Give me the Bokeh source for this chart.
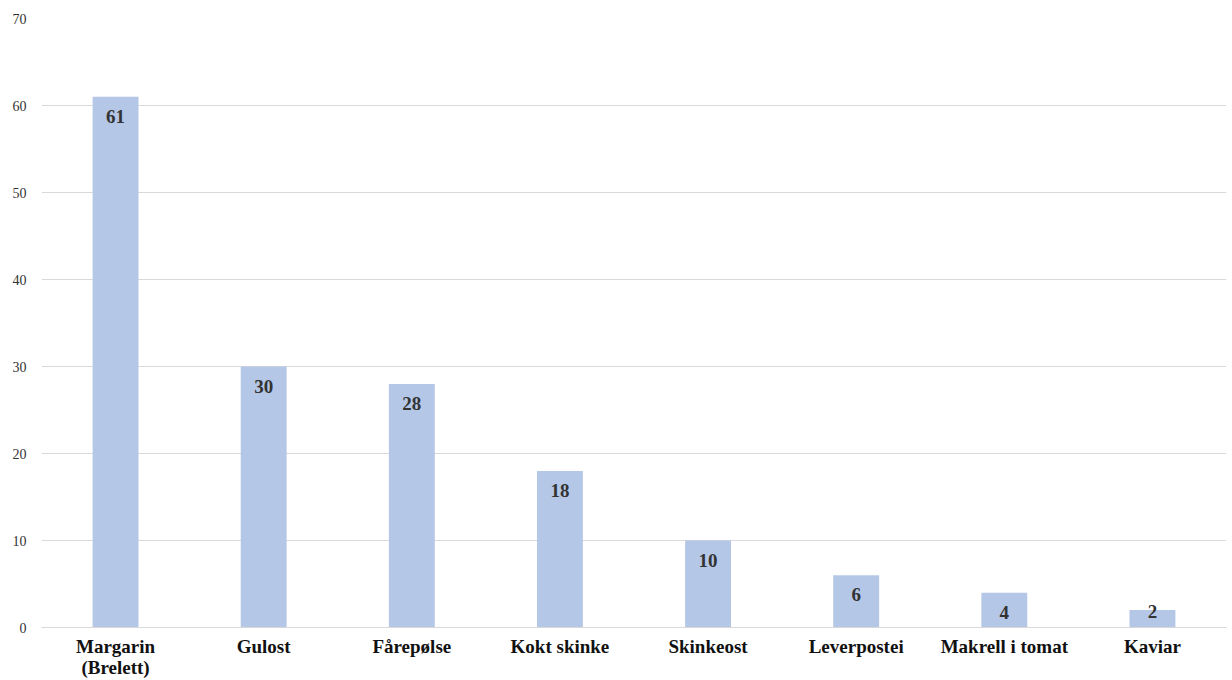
from bokeh.plotting import figure
from bokeh.models import ColumnDataSource, FixedTicker, LabelSet
from bokeh.embed import file_html
from bokeh.resources import INLINE

categories = ["Margarin\n(Brelett)", "Gulost", "Fårepølse", "Kokt skinke",
              "Skinkeost", "Leverpostei", "Makrell i tomat", "Kaviar"]
values = [61, 30, 28, 18, 10, 6, 4, 2]
y_ticks = [0, 10, 20, 30, 40, 50, 60, 70]

# labels sit inside the bar end; very short bars get the label nudged up (as in the source)
label_offsets = [-13 if v >= 3 else 5 for v in values]

src = ColumnDataSource(dict(cat=categories, val=values, lab=[str(v) for v in values],
                            off=label_offsets))

p = figure(x_range=categories, y_range=(0, 70), width=1232, height=680,
           output_backend="svg", toolbar_location=None,
           min_border_left=41, min_border_right=6, min_border_top=18, min_border_bottom=52)
p.outline_line_color = None
p.background_fill_color = "white"
p.border_fill_color = "white"

p.vbar(x="cat", top="val", width=0.31, source=src, color="#b4c7e7", line_color=None)

labels = LabelSet(x="cat", y="val", text="lab", source=src, text_align="center",
                  text_baseline="top", y_offset="off", text_font="Liberation Serif",
                  text_font_style="bold", text_font_size="19px", text_color="#333333")
p.add_layout(labels)

p.yaxis.ticker = FixedTicker(ticks=y_ticks)
p.yaxis.axis_line_color = None
p.yaxis.major_tick_line_color = None
p.yaxis.minor_tick_line_color = None
p.yaxis.major_label_text_font = "Liberation Serif"
p.yaxis.major_label_text_font_size = "14px"
p.yaxis.major_label_text_color = "#333333"
p.yaxis.major_label_standoff = 9

p.xaxis.axis_line_color = "#d9d9d9"
p.xaxis.major_tick_line_color = None
p.xaxis.minor_tick_line_color = None
p.xaxis.major_label_text_font = "Liberation Serif"
p.xaxis.major_label_text_font_style = "bold"
p.xaxis.major_label_text_font_size = "19px"
p.xaxis.major_label_text_line_height = 1.0
p.xaxis.major_label_text_color = "#111111"
p.xaxis.major_label_standoff = 2

p.xgrid.grid_line_color = None
p.ygrid.grid_line_color = "#d9d9d9"
p.ygrid.grid_line_width = 1

open("out.html", "w").write(file_html(p, INLINE))
